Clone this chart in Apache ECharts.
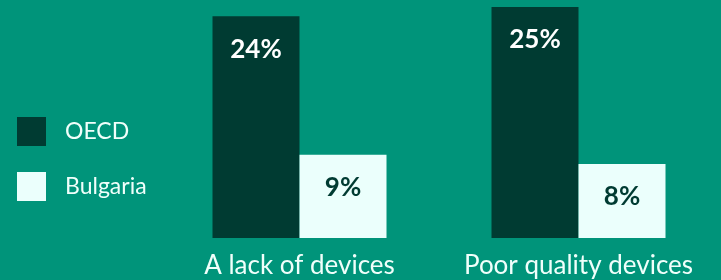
<!DOCTYPE html>
<html>
<head>
<meta charset="utf-8">
<script src="https://cdn.jsdelivr.net/npm/echarts@6/dist/echarts.min.js"></script>
<style>
  html, body { margin: 0; padding: 0; background: #00947a; }
  #chart { width: 721px; height: 280px; }
</style>
</head>
<body>
<div id="chart"></div>
<script>
// data
const categories = ['A lack of devices', 'Poor quality devices'];
const oecd = [24, 25];
const bulgaria = [9, 8];

const chart = echarts.init(document.getElementById('chart'));

const labelStyle = (color) => ({
  show: true,
  position: 'insideTop',
  distance: 20,
  color,
  fontFamily: 'Lato',
  fontWeight: 'bold',
  fontSize: 26,
  formatter: '{c}%'
});

chart.setOption({
  backgroundColor: '#00947a',
  animation: false,
  legend: {
    orient: 'vertical',
    left: 17,
    top: 117,
    padding: 0,
    itemWidth: 29,
    itemHeight: 29,
    itemGap: 26,
    icon: 'rect',
    textStyle: { color: '#f0fffb', fontFamily: 'Lato', fontSize: 23, padding: [0, 0, 0, 14] },
    data: ['OECD', 'Bulgaria']
  },
  grid: { left: 160, right: 3, top: 7, bottom: 42 },
  xAxis: {
    type: 'category',
    data: categories,
    axisLine: { show: false },
    axisTick: { show: false },
    axisLabel: {
      interval: 0,
      hideOverlap: false,
      color: '#f0fffb',
      fontFamily: 'Lato',
      fontSize: 26,
      margin: 15
    }
  },
  yAxis: {
    type: 'value',
    min: 0,
    max: 25,
    show: false,
    splitLine: { show: false }
  },
  series: [
    {
      name: 'OECD',
      type: 'bar',
      data: oecd,
      barWidth: 87,
      barGap: '0%',
      itemStyle: { color: '#003b32' },
      label: labelStyle('#ffffff')
    },
    {
      name: 'Bulgaria',
      type: 'bar',
      data: bulgaria,
      barWidth: 87,
      itemStyle: { color: '#ebfffc' },
      label: labelStyle('#003b32')
    }
  ]
});
</script>
</body>
</html>
